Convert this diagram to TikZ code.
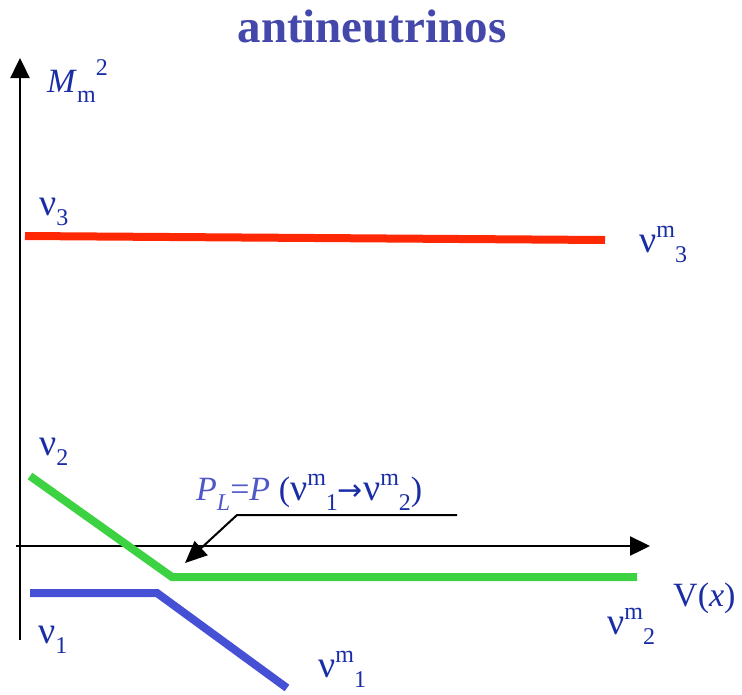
\documentclass[tikz,border=0pt]{standalone}
\usepackage{fontspec}
\setmainfont{Liberation Serif}
\newfontfamily\arrowfont{DejaVu Sans}
\usepackage{xcolor}
\usepackage{tikz}
\usetikzlibrary{arrows.meta, positioning}
\definecolor{titleblue}{RGB}{68,72,170}
\definecolor{labelblue}{RGB}{25,45,165}
\definecolor{lightblue}{RGB}{80,88,200}
\definecolor{levred}{RGB}{255,40,5}
\definecolor{levgreen}{RGB}{60,210,65}
\definecolor{levblue}{RGB}{70,80,212}
\newcommand{\scriptsz}{\fontsize{24}{27}\selectfont}
\newcommand{\nusup}[2]{{\fontsize{38}{40}\selectfont ν}\raisebox{0.42em}{\scriptsz #1}\raisebox{-0.3em}{\scriptsz #2}}
\newcommand{\nusub}[1]{{\fontsize{38}{40}\selectfont ν}\raisebox{-0.3em}{\scriptsz #1}}
\tikzset{
  axis/.style={line width=2.4pt, black, -{Triangle[length=20pt,width=19pt]}},
  level/.style={line width=8pt},
  pointer/.style={line width=2pt, black, -{Triangle[length=22pt,width=19pt]}},
  lab/.style={text=labelblue, font=\fontsize{34}{38}\selectfont, inner sep=0pt, anchor=base west}
}
\begin{document}
\begin{tikzpicture}[x=1pt, y=-1pt]
  \useasboundingbox (0,0) rectangle (742,694);
  \node[font=\fontsize{47}{52}\selectfont\bfseries, text=titleblue, inner sep=0pt, anchor=base] (title) at (372,42) {antineutrinos};

  % axes
  \coordinate (ybot) at (20,640);
  \coordinate (ytop) at (20,58);
  \coordinate (xleft) at (16,546);
  \coordinate (xright) at (650,546);
  \draw[axis] (ybot) -- (ytop);
  \draw[axis] (xleft) -- (xright);

  % levels
  \coordinate (r1) at (25,236);
  \coordinate (r2) at (605,240);
  \coordinate (g1) at (30,476);
  \coordinate (g2) at (172,577);
  \coordinate (g3) at (637,577);
  \coordinate (b1) at (30,593);
  \coordinate (b2) at (157,593);
  \coordinate (b3) at (287,688);
  \draw[level, levred] (r1) -- (r2);
  \draw[level, levgreen] (g1) -- (g2) -- (g3);
  \draw[level, levblue] (b1) -- (b2) -- (b3);

  % labels
  \node[lab] (mass) at (47,92) {\textit{M}\raisebox{-0.3em}{\scriptsz m}\raisebox{0.5em}{\scriptsz 2}};
  \node[lab] (nu3) at (39,215) {\nusub{3}};
  \node[lab] (nu2) at (39,455) {\nusub{2}};
  \node[lab] (nu1) at (38,643) {\nusub{1}};
  \node[lab] (num3) at (639,252) {\nusup{m}{3}};
  \node[lab] (num2) at (607,634) {\nusup{m}{2}};
  \node[lab] (num1) at (318,677) {\nusup{m}{1}};
  \node[lab] (vx) at (673,606) {V(\textit{x})};
  \node[lab] (prob) at (196,500) {\textcolor{lightblue}{\textit{P}\raisebox{-0.3em}{\scriptsz\itshape L}=\textit{P}} (\nusup{m}{1}{\arrowfont\fontsize{30}{34}\selectfont →}\nusup{m}{2})};

  % pointer to the crossing
  \coordinate (pend) at (457,515);
  \coordinate (pknee) at (237,515);
  \coordinate (ptip) at (185,563);
  \draw[pointer] (pend) -- (pknee) -- (ptip);
\end{tikzpicture}
\end{document}
